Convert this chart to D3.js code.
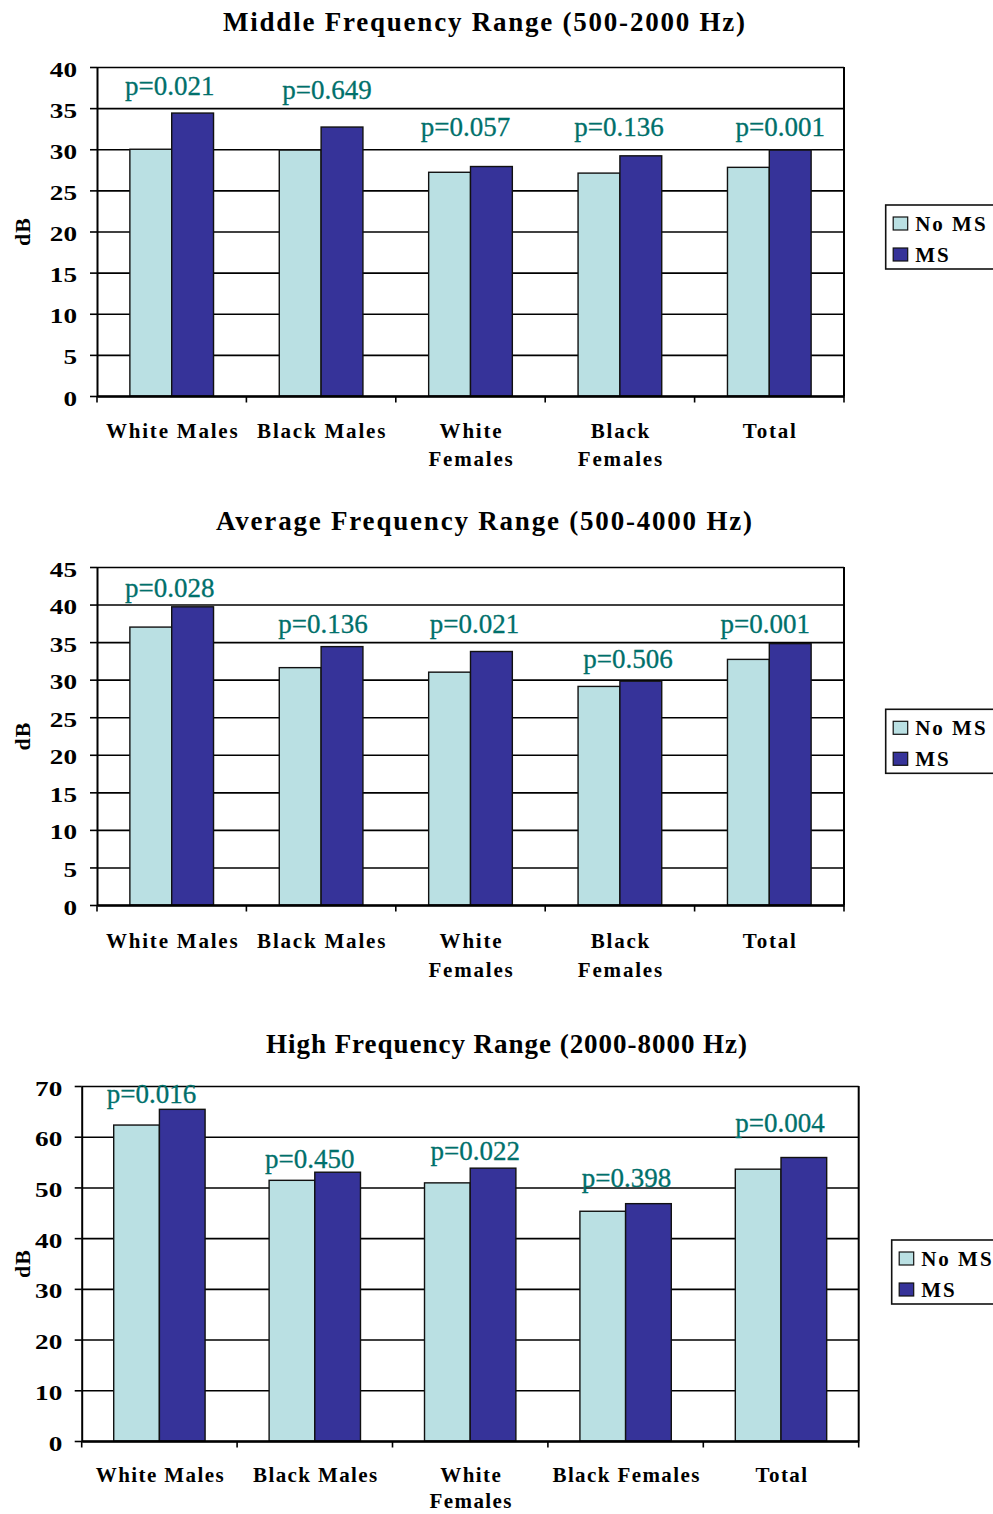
<!DOCTYPE html>
<html>
<head>
<meta charset="utf-8">
<script src="https://cdn.jsdelivr.net/npm/d3@7"></script>
<style>
  html, body { margin: 0; padding: 0; background: #fff; }
  svg { display: block; }
  text { font-family: "Liberation Serif", "Times New Roman", serif; }
</style>
</head>
<body>
<svg id="chart" width="993" height="1514"></svg>
<script>
// ---------------- DATA ----------------
const categories = ["White Males", "Black Males", "White Females", "Black Females", "Total"];
const series = ["No MS", "MS"];

const midTitle = "Middle Frequency Range (500-2000 Hz)";
const midNoMS = [30.0, 29.9, 27.2, 27.1, 27.8];
const midMS   = [34.4, 32.7, 27.9, 29.2, 29.9];
const midP    = ["p=0.021", "p=0.649", "p=0.057", "p=0.136", "p=0.001"];
const midTicks = [0, 5, 10, 15, 20, 25, 30, 35, 40];

const avgTitle = "Average Frequency Range (500-4000 Hz)";
const avgNoMS = [37.0, 31.6, 31.0, 29.1, 32.7];
const avgMS   = [39.7, 34.4, 33.75, 29.8, 34.8];
const avgP    = ["p=0.028", "p=0.136", "p=0.021", "p=0.506", "p=0.001"];
const avgTicks = [0, 5, 10, 15, 20, 25, 30, 35, 40, 45];

const highTitle = "High Frequency Range (2000-8000 Hz)";
const highNoMS = [62.3, 51.4, 50.9, 45.3, 53.6];
const highMS   = [65.4, 53.0, 53.8, 46.8, 55.9];
const highP    = ["p=0.016", "p=0.450", "p=0.022", "p=0.398", "p=0.004"];
const highTicks = [0, 10, 20, 30, 40, 50, 60, 70];

const yLabel = "dB";
const catLinesA = [["White Males"], ["Black Males"], ["White", "Females"], ["Black", "Females"], ["Total"]];
const catLinesB = [["White Males"], ["Black Males"], ["White", "Females"], ["Black Females"], ["Total"]];

// ---------------- LAYOUT (positions / styles) ----------------
const colors = { "No MS": "#BAE0E3", "MS": "#363399" };
const pColor = "#00706B";

const charts = [
  { title: midTitle, titleX: 484, titleY: 30.7, titleLen: 522,
    noms: midNoMS, ms: midMS, p: midP, ticks: midTicks, cats: catLinesA,
    left: 97, right: 844, top: 67, bottom: 396, barPad: 0.22,
    pY: [36.6, 36.1, 31.6, 31.6, 31.6], pDx: [-2, 6, -5, -1, 11],
    legX: 885.7, legY: 205, tickLabelX: -20, catDy: 42, catLine: 28, catLs: 1.8 },
  { title: avgTitle, titleX: 484, titleY: 530, titleLen: 536,
    noms: avgNoMS, ms: avgMS, p: avgP, ticks: avgTicks, cats: catLinesA,
    left: 97, right: 844, top: 567, bottom: 905, barPad: 0.22,
    pY: [41.0, 36.2, 36.2, 31.6, 36.2], pDx: [-2, 2, 4, 8, -4],
    legX: 885.7, legY: 709.3, tickLabelX: -20, catDy: 43, catLine: 28.5, catLs: 1.8 },
  { title: highTitle, titleX: 506.5, titleY: 1053.3, titleLen: 481,
    noms: highNoMS, ms: highMS, p: highP, ticks: highTicks, cats: catLinesB,
    left: 81.7, right: 858.7, top: 1086, bottom: 1441, barPad: 0.206,
    pY: [66.6, 53.9, 55.4, 50.1, 60.9], pDx: [-8, -5, 5, 1, -1],
    legX: 891.7, legY: 1240, tickLabelX: -19.4, catDy: 40.5, catLine: 26, catLs: 1.4 }
];

const svg = d3.select("#chart");

charts.forEach(cfg => {
  const g = svg.append("g");
  const w = cfg.right - cfg.left, h = cfg.bottom - cfg.top;
  const plot = g.append("g").attr("transform", `translate(${cfg.left},${cfg.top})`);

  const x0 = d3.scaleBand().domain(categories).range([0, w]).padding(0);
  const bw = x0.bandwidth();
  const x1 = d3.scaleBand().domain(series).range([bw * cfg.barPad, bw * (1 - cfg.barPad)]).padding(0);
  const yMax = cfg.ticks[cfg.ticks.length - 1];
  const y = d3.scaleLinear().domain([0, yMax]).range([h, 0]);

  // gridlines
  const grid = plot.append("g").call(d3.axisLeft(y).tickValues(cfg.ticks).tickSize(-w).tickFormat(""));
  grid.select(".domain").remove();
  grid.selectAll(".tick line").attr("stroke", "#000").attr("stroke-width", 1.6);

  // right frame
  plot.append("line").attr("x1", w).attr("x2", w).attr("y1", 0).attr("y2", h)
    .attr("stroke", "#000").attr("stroke-width", 2);

  // title
  g.append("text").attr("x", cfg.titleX).attr("y", cfg.titleY)
    .attr("text-anchor", "middle").attr("font-size", 27).attr("font-weight", "bold")
    .attr("textLength", cfg.titleLen).attr("lengthAdjust", "spacing")
    .text(cfg.title);

  // bars
  const rows = categories.map((c, i) => ({ cat: c, vals: [{ s: "No MS", v: cfg.noms[i] }, { s: "MS", v: cfg.ms[i] }] }));
  const grp = plot.selectAll(".grp").data(rows).enter().append("g")
    .attr("transform", d => `translate(${x0(d.cat)},0)`);
  grp.selectAll("rect").data(d => d.vals).enter().append("rect")
    .attr("x", d => x1(d.s)).attr("width", x1.bandwidth())
    .attr("y", d => y(d.v)).attr("height", d => h - y(d.v))
    .attr("fill", d => colors[d.s]).attr("stroke", "#111").attr("stroke-width", 1.4);

  // p-values
  plot.selectAll(".pv").data(cfg.p).enter().append("text")
    .attr("x", (d, i) => x0(categories[i]) + bw / 2 + cfg.pDx[i])
    .attr("y", (d, i) => y(cfg.pY[i]))
    .attr("text-anchor", "middle").attr("font-size", 27).attr("fill", pColor)
    .attr("stroke", pColor).attr("stroke-width", 0.3)
    .text(d => d);

  // y axis
  const ya = plot.append("g").call(d3.axisLeft(y).tickValues(cfg.ticks).tickSize(7).tickSizeOuter(0).tickPadding(13));
  ya.select(".domain").attr("stroke", "#000").attr("stroke-width", 2);
  ya.selectAll(".tick line").attr("stroke", "#000").attr("stroke-width", 1.6);
  ya.selectAll(".tick text")
    .attr("x", cfg.tickLabelX).attr("dy", 9)
    .attr("font-family", "'Liberation Serif', serif").attr("font-size", 21).attr("font-weight", "bold")
    .attr("fill", "#000")
    .attr("textLength", d => String(d).length * 13.6).attr("lengthAdjust", "spacingAndGlyphs");

  // x axis
  const xa = plot.append("g").attr("transform", `translate(0,${h})`)
    .call(d3.axisBottom(x0).tickSize(0).tickFormat(""));
  xa.select(".domain").attr("stroke", "#000").attr("stroke-width", 2.4);
  const bounds = categories.map(c => x0(c)).concat([w]);
  xa.selectAll(".sep").data(bounds).enter().append("line")
    .attr("x1", d => d).attr("x2", d => d).attr("y1", 0).attr("y2", 6.5)
    .attr("stroke", "#000").attr("stroke-width", 1.6);

  // category labels
  const cl = plot.selectAll(".cl").data(cfg.cats).enter().append("text")
    .attr("text-anchor", "middle").attr("font-size", 21).attr("font-weight", "bold")
    .attr("letter-spacing", cfg.catLs)
    .attr("transform", (d, i) => `translate(${x0(categories[i]) + bw / 2 + 1},${h + cfg.catDy})`);
  cl.selectAll("tspan").data(d => d).enter().append("tspan")
    .attr("x", 0).attr("y", (d, i) => i * cfg.catLine).text(d => d);

  // y label
  g.append("text").attr("transform", `translate(30,${(cfg.top + cfg.bottom) / 2}) rotate(-90)`)
    .attr("text-anchor", "middle").attr("font-size", 22).attr("font-weight", "bold")
    .attr("letter-spacing", 1)
    .text(yLabel);

  // legend
  const lg = g.append("g").attr("transform", `translate(${cfg.legX},${cfg.legY})`);
  lg.append("rect").attr("x", 0).attr("y", 0).attr("width", 140).attr("height", 64)
    .attr("fill", "#fff").attr("stroke", "#111").attr("stroke-width", 1.6);
  series.forEach((s, i) => {
    lg.append("rect").attr("x", 7.5).attr("y", 12 + i * 31).attr("width", 14.5).attr("height", 13)
      .attr("fill", colors[s]).attr("stroke", "#111").attr("stroke-width", 1.2);
    lg.append("text").attr("x", 29.5).attr("y", 25.7 + i * 31)
      .attr("font-size", 21).attr("font-weight", "bold").attr("letter-spacing", 2)
      .text(s);
  });
});
</script>
</body>
</html>
